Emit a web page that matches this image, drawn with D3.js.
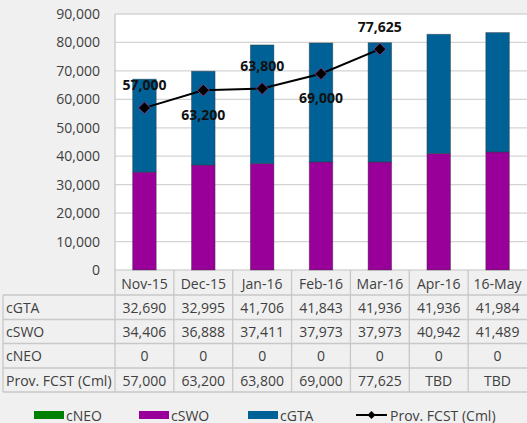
<!DOCTYPE html>
<html><head><meta charset="utf-8">
<script src="https://cdn.jsdelivr.net/npm/d3@7"></script>
<style>body{margin:0;background:#f0f0f0}svg{display:block}</style></head>
<body><svg id="c" width="527" height="423"></svg>
<script>
const categories=["Nov-15","Dec-15","Jan-16","Feb-16","Mar-16","Apr-16","16-May"];
const cGTA=[32690,32995,41706,41843,41936,41936,41984];
const cSWO=[34406,36888,37411,37973,37973,40942,41489];
const cNEO=[0,0,0,0,0,0,0];
const provFcst=[57000,63200,63800,69000,77625,null,null];
const provText=["57,000","63,200","63,800","69,000","77,625","TBD","TBD"];
const yTicks=[0,10000,20000,30000,40000,50000,60000,70000,80000,90000];
const seriesNames=["cNEO","cSWO","cGTA"];
const seriesColors={cNEO:"#008000",cSWO:"#990099",cGTA:"#006197"};

const svg=d3.select("#c");
const font="'Open Sans', sans-serif";
const L=115,R=527,T=14,B=270;
const x=d3.scaleBand().domain(categories).range([L,R]).padding(0);
const y=d3.scaleLinear().domain([0,90000]).range([B,T]);

svg.append("rect").attr("x",L).attr("y",T).attr("width",R-L).attr("height",B-T).attr("fill","#fff");
// gridlines
svg.append("g").selectAll("line").data(yTicks).join("line")
  .attr("x1",L).attr("x2",R).attr("y1",d=>y(d)).attr("y2",d=>y(d))
  .attr("stroke","#d4d4d4").attr("stroke-width",1.3);
svg.append("line").attr("x1",L).attr("x2",L).attr("y1",T).attr("y2",392).attr("stroke","#c8c8c8").attr("stroke-width",1.3);

// y axis labels
const ya=svg.append("g").attr("transform",`translate(${L},0)`)
  .call(d3.axisLeft(y).tickValues(yTicks).tickSize(0).tickPadding(15).tickFormat(d3.format(",")));
ya.select(".domain").remove();
ya.selectAll("text").attr("font-family",font).attr("font-size",14).attr("fill","#404040");

// stacked bars
const rows=categories.map((c,i)=>({cat:c,cNEO:cNEO[i],cSWO:cSWO[i],cGTA:cGTA[i]}));
const stack=d3.stack().keys(seriesNames)(rows);
const bw=x.bandwidth()*0.4;
svg.append("g").selectAll("g").data(stack).join("g")
  .attr("fill",d=>seriesColors[d.key])
  .selectAll("rect").data(d=>d.filter(p=>p[1]-p[0]>0)).join("rect")
  .attr("x",d=>x(d.data.cat)+x.bandwidth()/2-bw/2).attr("width",bw)
  .attr("y",d=>y(d[1])).attr("height",d=>y(d[0])-y(d[1]))
  .attr("stroke","#333").attr("stroke-opacity",0.5).attr("stroke-width",0.8);

// line
const pts=categories.map((c,i)=>({cat:c,v:provFcst[i],t:provText[i],i})).filter(d=>d.v!=null);
const cx=d=>x(d.cat)+x.bandwidth()/2;
svg.append("path").datum(pts).attr("fill","none").attr("stroke","#000").attr("stroke-width",2)
  .attr("d",d3.line().x(cx).y(d=>y(d.v)));
const r=6;
svg.append("g").selectAll("path").data(pts).join("path")
  .attr("d",`M0,${-r}L${r},0L0,${r}L${-r},0Z`)
  .attr("transform",d=>`translate(${cx(d)},${y(d.v)})`)
  .attr("fill","#000").attr("stroke","#7a3d8a").attr("stroke-width",1);
svg.append("g").selectAll("text").data(pts).join("text")
  .attr("x",cx).attr("y",d=>y(d.v)+(d.i%2===0?-23:24))
  .attr("text-anchor","middle").attr("dominant-baseline","central")
  .attr("font-family",font).attr("font-size",14).attr("font-weight","bold").attr("fill","#111")
  .text(d=>d.t);

// data table
const rowCenters=[283,307.5,331.5,355.5,380];
const rowLines=[295,319.5,343.5,368,392];
const tbl=svg.append("g");
tbl.selectAll("line.h").data(rowLines).join("line")
  .attr("x1",3).attr("x2",R).attr("y1",d=>d).attr("y2",d=>d)
  .attr("stroke","#c8c8c8").attr("stroke-width",1.3);
tbl.append("line").attr("x1",3).attr("x2",3).attr("y1",295).attr("y2",392).attr("stroke","#c8c8c8").attr("stroke-width",1.3);
tbl.selectAll("line.v").data(categories.slice(1)).join("line")
  .attr("x1",d=>x(d)).attr("x2",d=>x(d)).attr("y1",B).attr("y2",392)
  .attr("stroke","#c8c8c8").attr("stroke-width",1.3);
const fmt=d3.format(",");
const tableRows=[
  {label:"",vals:categories},
  {label:"cGTA",vals:cGTA.map(fmt)},
  {label:"cSWO",vals:cSWO.map(fmt)},
  {label:"cNEO",vals:cNEO.map(fmt)},
  {label:"Prov. FCST (Cml)",vals:provText}
];
tableRows.forEach((row,ri)=>{
  tbl.append("text").attr("x",6).attr("y",rowCenters[ri]).attr("dominant-baseline","central")
    .attr("font-family",font).attr("font-size",14).attr("fill","#404040").text(row.label);
  tbl.append("g").selectAll("text").data(row.vals).join("text")
    .attr("x",(d,i)=>x(categories[i])+x.bandwidth()/2).attr("y",rowCenters[ri])
    .attr("text-anchor","middle").attr("dominant-baseline","central")
    .attr("font-family",font).attr("font-size",14).attr("fill","#404040").text(d=>d);
});

// legend
const leg=svg.append("g");
const legItems=[{k:"cNEO",x:34},{k:"cSWO",x:139},{k:"cGTA",x:248}];
legItems.forEach(it=>{
  leg.append("rect").attr("x",it.x).attr("y",411).attr("width",30).attr("height",8).attr("fill",seriesColors[it.k]);
  leg.append("text").attr("x",it.x+32).attr("y",415).attr("dominant-baseline","central")
    .attr("font-family",font).attr("font-size",14).attr("fill","#404040").text(it.k);
});
leg.append("line").attr("x1",356).attr("x2",387).attr("y1",415).attr("y2",415).attr("stroke","#000").attr("stroke-width",2);
leg.append("path").attr("d","M0,-4L4,0L0,4L-4,0Z").attr("transform","translate(371.5,415)").attr("fill","#000");
leg.append("text").attr("x",390).attr("y",415).attr("dominant-baseline","central")
  .attr("font-family",font).attr("font-size",14).attr("fill","#404040").text("Prov. FCST (Cml)");
</script></body></html>
